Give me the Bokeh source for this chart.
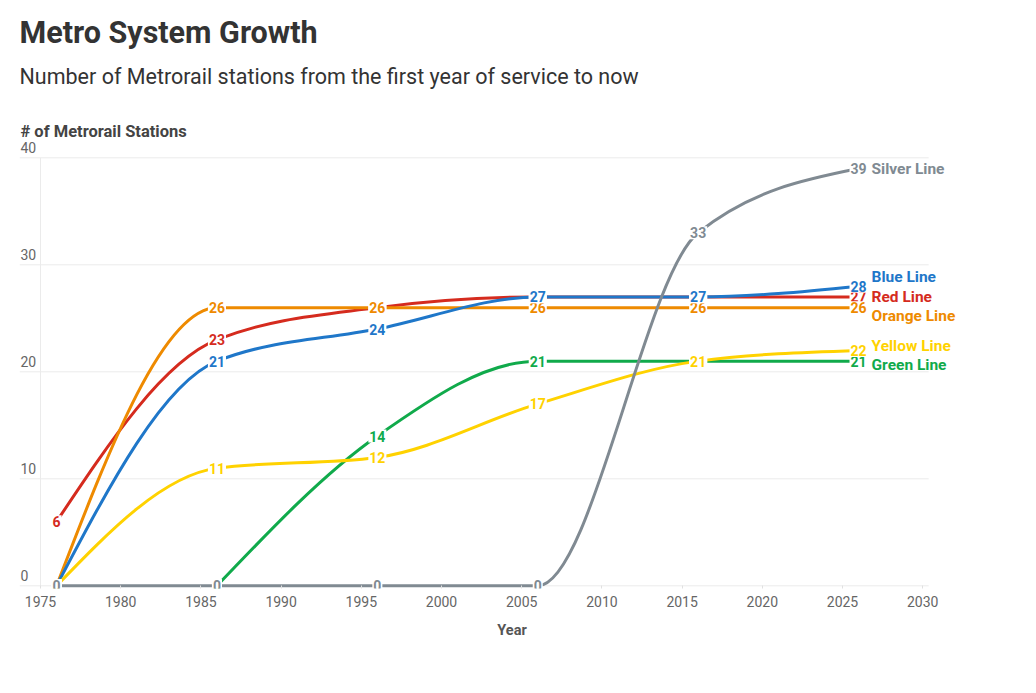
from bokeh.plotting import figure
from bokeh.models import ColumnDataSource, LabelSet, Title, Range1d, FixedTicker
from bokeh.core.properties import value
from bokeh.embed import file_html
from bokeh.resources import INLINE

# ---------------- data ----------------
years = [1976, 1986, 1996, 2006, 2016, 2026]
red = [6, 23, 26, 27, 27, 27]
orange = [0, 26, 26, 26, 26, 26]
blue = [0, 21, 24, 27, 27, 28]
green = [None, 0, 14, 21, 21, 21]
yellow = [0, 11, 12, 17, 21, 22]
silver = [0, 0, 0, 0, 33, 39]

series_names = ["Red Line", "Orange Line", "Blue Line", "Green Line", "Yellow Line", "Silver Line"]
series_values = [red, orange, blue, green, yellow, silver]
series_colors = ["#d52b1e", "#ee8a00", "#1f77c9", "#10aa4b", "#ffd200", "#808a92"]
# vertical placement of end-of-line name labels (de-overlapped)
name_label_y = [27.0, 25.2, 28.9, 20.6, 22.4, 39.0]

y_ticks = [0, 10, 20, 30, 40]
x_ticks = [1975, 1980, 1985, 1990, 1995, 2000, 2005, 2010, 2015, 2020, 2025, 2030]

FONT = "Roboto"
PX_PER_YEAR = 16.04
PX_PER_UNIT = 10.7
FRAME_W, FRAME_H = 985, 500
X_START = 1973.69
X_GRID_END = 2030.37
X_END = X_START + FRAME_W / PX_PER_YEAR
Y_START = -0.25
Y_END = Y_START + FRAME_H / PX_PER_UNIT


def _sign(v):
    return -1.0 if v < 0 else 1.0


def monotone_segments(xs, ys):
    """Bezier segments of a monotone-x cubic through the points."""
    pts = [(x, y) for x, y in zip(xs, ys) if y is not None]
    px = [q[0] for q in pts]
    py = [q[1] for q in pts]
    n = len(px)
    t = [0.0] * n
    for i in range(1, n - 1):
        h0 = px[i] - px[i - 1]
        h1 = px[i + 1] - px[i]
        s0 = (py[i] - py[i - 1]) / h0
        s1 = (py[i + 1] - py[i]) / h1
        pp = (s0 * h1 + s1 * h0) / (h0 + h1)
        t[i] = (_sign(s0) + _sign(s1)) * min(abs(s0), abs(s1), 0.5 * abs(pp))
    if n > 2:
        t[0] = (3 * (py[1] - py[0]) / (px[1] - px[0]) - t[1]) / 2
        t[-1] = (3 * (py[-1] - py[-2]) / (px[-1] - px[-2]) - t[-2]) / 2
    else:
        t[0] = t[-1] = (py[1] - py[0]) / (px[1] - px[0])
    d = dict(x0=[], y0=[], x1=[], y1=[], cx0=[], cy0=[], cx1=[], cy1=[])
    for i in range(n - 1):
        h = px[i + 1] - px[i]
        d["x0"].append(px[i]); d["y0"].append(py[i])
        d["x1"].append(px[i + 1]); d["y1"].append(py[i + 1])
        d["cx0"].append(px[i] + h / 3); d["cy0"].append(py[i] + t[i] * h / 3)
        d["cx1"].append(px[i + 1] - h / 3); d["cy1"].append(py[i + 1] - t[i + 1] * h / 3)
    return d


p = figure(
    frame_width=FRAME_W, frame_height=FRAME_H,
    x_range=Range1d(X_START, X_END), y_range=Range1d(Y_START, Y_END),
    output_backend="svg", toolbar_location=None,
    min_border_left=19, min_border_right=8, min_border_top=0, min_border_bottom=20,
    background_fill_color="white", border_fill_color="white",
)
p.outline_line_color = None
p.yaxis.visible = False
p.xgrid.visible = False
p.ygrid.visible = False

xa = p.xaxis[0]
xa.ticker = FixedTicker(ticks=x_ticks)
xa.axis_line_color = None
xa.major_tick_in = 3
xa.major_tick_out = 0
xa.major_tick_line_color = "#e0e0e0"
xa.minor_tick_line_color = None
xa.major_label_text_font = FONT
xa.major_label_text_font_size = "14px"
xa.major_label_text_color = "#666666"
xa.major_label_standoff = 7
xa.axis_label = "Year"
xa.axis_label_text_font = FONT
xa.axis_label_text_font_size = "14.5px"
xa.axis_label_text_font_style = "bold"
xa.axis_label_text_color = "#555555"
xa.axis_label_standoff = 12

# titles (added nearest-first)
p.add_layout(Title(text="Number of Metrorail stations from the first year of service to now",
                   text_font=FONT, text_font_size="21.5px", text_font_style="normal",
                   text_color="#333333", align="left", offset=0, standoff=0), "above")
p.add_layout(Title(text="Metro System Growth", text_font=FONT, text_font_size="30.5px",
                   text_font_style="bold", text_color="#333333", align="left", offset=0,
                   standoff=24), "above")

# horizontal grid lines (end at the x-axis end) and the y-axis line at 1975
grid_src = ColumnDataSource(dict(x0=[X_START] * len(y_ticks), x1=[X_GRID_END] * len(y_ticks),
                                 y=y_ticks))
p.segment(x0="x0", y0="y", x1="x1", y1="y", source=grid_src, line_color="#ebebeb", line_width=1)
p.segment(x0=[x_ticks[0]], y0=[y_ticks[0]], x1=[x_ticks[0]], y1=[y_ticks[-1]],
          line_color="#ebebeb", line_width=1)

# y tick labels, left aligned just above their grid lines
ytl = ColumnDataSource(dict(x=[X_START] * len(y_ticks), y=y_ticks, t=[str(v) for v in y_ticks]))
p.text(x="x", y="y", text="t", source=ytl, x_offset=1, y_offset=-10,
       text_align="left", text_baseline="alphabetic", text_font=value(FONT),
       text_font_size="14px", text_color="#666666")

# y axis title
p.text(x=[X_START], y=[y_ticks[-1]], text=["# of Metrorail Stations"], x_offset=1, y_offset=-26,
       text_align="left", text_baseline="alphabetic", text_font=value(FONT),
       text_font_size="16.5px", text_font_style="bold", text_color="#444444")

# lines
for vals, col in zip(series_values, series_colors):
    seg = ColumnDataSource(monotone_segments(years, vals))
    p.bezier(x0="x0", y0="y0", x1="x1", y1="y1", cx0="cx0", cy0="cy0", cx1="cx1", cy1="cy1",
             source=seg, line_color=col, line_width=3, line_cap="round")

# value labels
for vals, col in zip(series_values, series_colors):
    xs = [x for x, v in zip(years, vals) if v is not None]
    ys = [v for v in vals if v is not None]
    src = ColumnDataSource(dict(x=xs, y=ys, t=[str(v) for v in ys]))
    p.text(x="x", y="y", text="t", source=src, text_align="center", text_baseline="middle",
           text_font=value(FONT), text_font_size="14px", text_font_style="bold",
           text_color=col, background_fill_color="white", padding=1)

# end-of-line names
names_src = ColumnDataSource(dict(x=[years[-1]] * len(series_names), y=name_label_y,
                                  t=series_names, c=series_colors))
p.add_layout(LabelSet(x="x", y="y", text="t", source=names_src, x_offset=13,
                      text_align="left", text_baseline="middle", text_font=value(FONT),
                      text_font_size="15.5px", text_font_style="bold", text_color="c"))

open("out.html", "w").write(file_html(p, INLINE))
